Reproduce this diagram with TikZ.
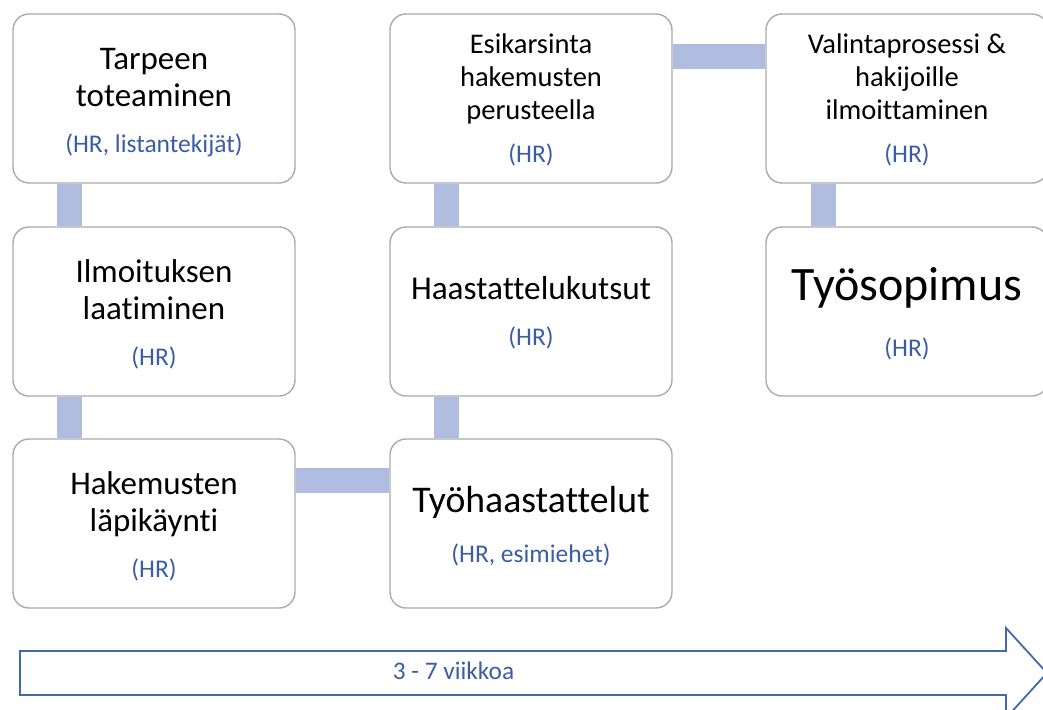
\documentclass[tikz,border=0pt]{standalone}
\usepackage{fontspec}
\setmainfont{Carlito}[Ligatures={NoCommon,NoContextual}]
\usetikzlibrary{backgrounds}

\definecolor{boxline}{HTML}{ABABAB}
\definecolor{linkblue}{HTML}{B1BDE0}
\definecolor{rolecol}{HTML}{3A5DA4}
\definecolor{arrowline}{HTML}{4468AE}

\tikzset{
  stepbox/.style={draw=boxline, line width=1.4pt, fill=white, rounded corners=16pt,
                  minimum width=282pt, minimum height=169pt, inner sep=0pt},
  link/.style={draw=linkblue, line width=25pt},
  txt/.style={anchor=base, inner sep=0pt, text=black},
  big/.style={txt, font=\fontsize{33}{38}\selectfont},
  mid/.style={txt, font=\fontsize{28.5}{32}\selectfont},
  role/.style={anchor=base, inner sep=0pt, text=rolecol, font=\fontsize{25.5}{30}\selectfont},
}

\begin{document}
\begin{tikzpicture}[x=1pt, y=-1pt]
  \useasboundingbox (0,0) rectangle (1043,709);
  \clip (0,0) rectangle (1043,709);

  % process steps
  \node[stepbox] (b1) at (154,98.5) {};
  \node[stepbox] (b2) at (154,311.5) {};
  \node[stepbox] (b3) at (154,523.5) {};
  \node[stepbox] (b4) at (531,98.5) {};
  \node[stepbox] (b5) at (531,311.5) {};
  \node[stepbox] (b6) at (531,523.5) {};
  \node[stepbox] (b7) at (907,98.5) {};
  \node[stepbox] (b8) at (907,311.5) {};

  % guide lines for the connecting bars
  \coordinate (c1) at (69.5,0);
  \coordinate (c2) at (446,0);
  \coordinate (c3) at (823,0);
  \coordinate (r1) at (0,56.5);
  \coordinate (r3) at (0,480.5);

  \begin{scope}[on background layer]
    \draw[link] (c1 |- b1.south) -- (c1 |- b2.north);
    \draw[link] (c1 |- b2.south) -- (c1 |- b3.north);
    \draw[link] (b3.east |- r3) -- (b6.west |- r3);
    \draw[link] (c2 |- b6.north) -- (c2 |- b5.south);
    \draw[link] (c2 |- b5.north) -- (c2 |- b4.south);
    \draw[link] (b4.east |- r1) -- (b7.west |- r1);
    \draw[link] (c3 |- b7.south) -- (c3 |- b8.north);
  \end{scope}

  % step texts
  \node[big] (t1a) at (154,69) {Tarpeen};
  \node[big] (t1b) at (154,106) {toteaminen};
  \node[role] (t1c) at (154,152) {(HR, listantekijät)};

  \node[big] (t2a) at (154,282) {Ilmoituksen};
  \node[big] (t2b) at (154,319) {laatiminen};
  \node[role] (t2c) at (154,365) {(HR)};

  \node[big] (t3a) at (154,494) {Hakemusten};
  \node[big] (t3b) at (154,531) {läpikäynti};
  \node[role] (t3c) at (154,577) {(HR)};

  \node[mid] (t4a) at (531,54) {Esikarsinta};
  \node[mid] (t4b) at (531,86.5) {hakemusten};
  \node[mid] (t4c) at (531,119) {perusteella};
  \node[role] (t4d) at (531,162) {(HR)};

  \node[txt, font=\fontsize{33.3}{38}\selectfont] (t5a) at (531,299) {Haastattelukutsut};
  \node[role] (t5b) at (531,345) {(HR)};

  \node[txt, font=\fontsize{37.7}{44}\selectfont] (t6a) at (531,512) {Työhaastattelut};
  \node[role] (t6b) at (531,562) {(HR, esimiehet)};

  \node[mid] (t7a) at (907,54) {Valintaprosessi \&};
  \node[mid] (t7b) at (907,86.5) {hakijoille};
  \node[mid] (t7c) at (907,119) {ilmoittaminen};
  \node[role] (t7d) at (907,162) {(HR)};

  \node[txt, font=\fontsize{48}{56}\selectfont] (t8a) at (907,300) {Työsopimus};
  \node[role] (t8b) at (907,356) {(HR)};

  % time line arrow
  \draw[arrowline, line width=1.8pt, fill=white, line join=miter]
    (20,651) -- (1006,651) -- (1006,628) -- (1047,673) -- (1006,718)
    -- (1006,695) -- (20,695) -- cycle;
  \node[role, font=\fontsize{25.3}{30}\selectfont] (dur) at (453.5,679) {3 - 7 viikkoa};
\end{tikzpicture}
\end{document}
